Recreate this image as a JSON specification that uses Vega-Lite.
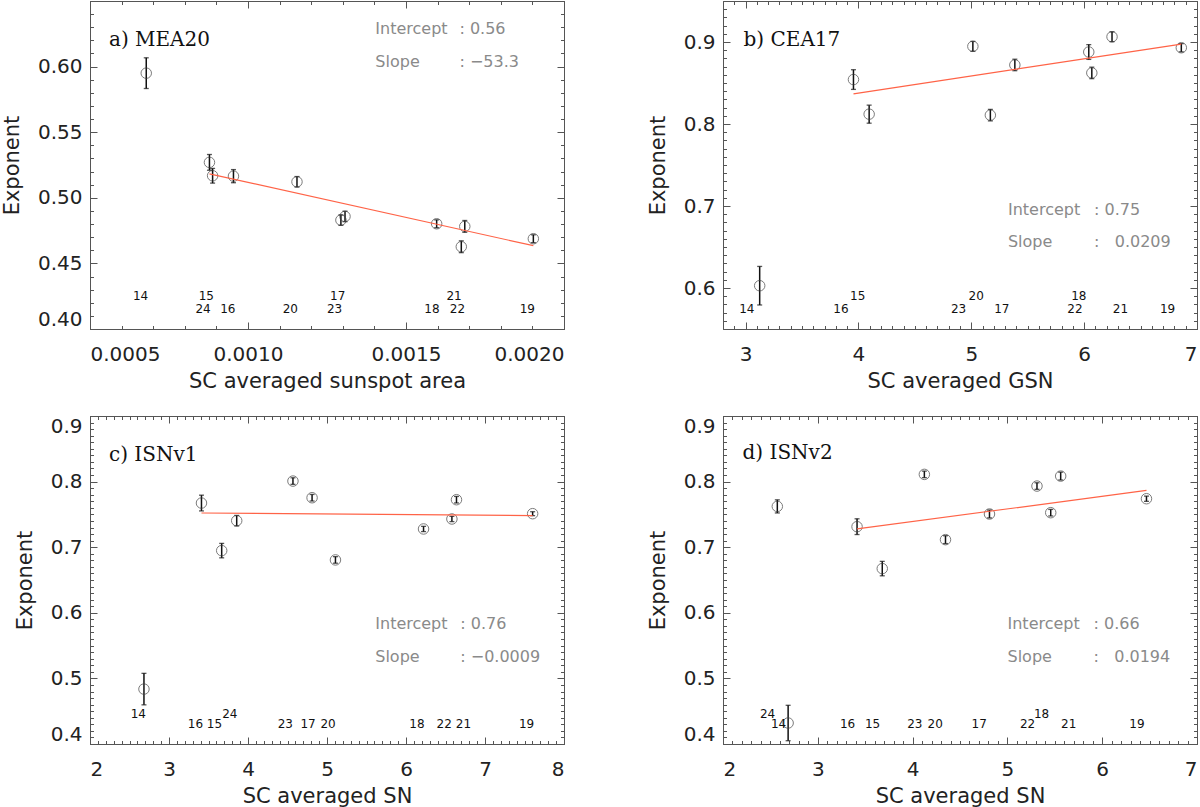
{
  "$schema": "https://vega.github.io/schema/vega-lite/v6.json",
  "description": "Exponent versus solar-cycle averaged activity for four sunspot records",
  "padding": {"left": 0, "top": 0, "right": 0, "bottom": 0},
  "bounds": "flush",
  "columns": 2,
  "spacing": {"row": 87, "column": 159},
  "config": {
    "view": {"stroke": "#555", "strokeWidth": 1},
    "axis": {
      "grid": false, "domain": false,
      "labelFont": "DejaVu Sans", "labelFontSize": 20, "labelColor": "#222",
      "titleFont": "DejaVu Sans", "titleFontSize": 21, "titleFontWeight": "normal", "titleColor": "#222",
      "tickColor": "#555", "tickWidth": 1, "labelOverlap": false, "labelBound": false
    },
    "axisX": {"labelPadding": 15, "titlePadding": 6},
    "axisY": {"labelPadding": 8, "titlePadding": 15}
  },
  "datasets": {
    "a_pts": [
      {"cyc": "14", "x": 0.000678, "y": 0.595, "lo": 0.5833, "hi": 0.6067, "lx": 0.000660, "ly": 0.4255},
      {"cyc": "15", "x": 0.000878, "y": 0.527, "lo": 0.521, "hi": 0.533, "lx": 0.000868, "ly": 0.4255},
      {"cyc": "24", "x": 0.000888, "y": 0.5168, "lo": 0.5112, "hi": 0.5224, "lx": 0.000858, "ly": 0.4155},
      {"cyc": "16", "x": 0.000954, "y": 0.5165, "lo": 0.5115, "hi": 0.5215, "lx": 0.000936, "ly": 0.4155},
      {"cyc": "20", "x": 0.001155, "y": 0.5122, "lo": 0.5082, "hi": 0.5162, "lx": 0.001134, "ly": 0.4155},
      {"cyc": "23", "x": 0.001294, "y": 0.483, "lo": 0.479, "hi": 0.487, "lx": 0.001274, "ly": 0.4155},
      {"cyc": "17", "x": 0.001307, "y": 0.4858, "lo": 0.4818, "hi": 0.4898, "lx": 0.001284, "ly": 0.4255},
      {"cyc": "18", "x": 0.001597, "y": 0.4802, "lo": 0.4772, "hi": 0.4832, "lx": 0.001582, "ly": 0.4155},
      {"cyc": "21", "x": 0.001686, "y": 0.4782, "lo": 0.4737, "hi": 0.4827, "lx": 0.001652, "ly": 0.4255},
      {"cyc": "22", "x": 0.001675, "y": 0.4627, "lo": 0.4582, "hi": 0.4672, "lx": 0.001663, "ly": 0.4155},
      {"cyc": "19", "x": 0.001903, "y": 0.4688, "lo": 0.4658, "hi": 0.4718, "lx": 0.001884, "ly": 0.4155}
    ],
    "a_fit": [{"x": 0.000878, "y": 0.5183}, {"x": 0.001903, "y": 0.4635}],
    "a_txt": [
      {"k": "Intercept", "v": ": 0.56", "kx": 0.001403, "vx": 0.001669, "y": 0.6247},
      {"k": "Slope", "v": ": \u221253.3", "kx": 0.001403, "vx": 0.001669, "y": 0.5994}
    ],
    "a_lab": [{"t": "a) MEA20", "x": 0.00056, "y": 0.6158}],
    "b_pts": [
      {"cyc": "14", "x": 3.125, "y": 0.6028, "lo": 0.5793, "hi": 0.6263, "lx": 3.011, "ly": 0.5750},
      {"cyc": "16", "x": 3.956, "y": 0.8542, "lo": 0.8422, "hi": 0.8662, "lx": 3.845, "ly": 0.5750},
      {"cyc": "15", "x": 4.095, "y": 0.812, "lo": 0.801, "hi": 0.823, "lx": 3.993, "ly": 0.5903},
      {"cyc": "23", "x": 5.014, "y": 0.8947, "lo": 0.8887, "hi": 0.9007, "lx": 4.887, "ly": 0.5750},
      {"cyc": "20", "x": 5.169, "y": 0.8108, "lo": 0.8038, "hi": 0.8178, "lx": 5.043, "ly": 0.5903},
      {"cyc": "17", "x": 5.386, "y": 0.872, "lo": 0.865, "hi": 0.879, "lx": 5.271, "ly": 0.5750},
      {"cyc": "22", "x": 6.041, "y": 0.8878, "lo": 0.8788, "hi": 0.8968, "lx": 5.919, "ly": 0.5750},
      {"cyc": "18", "x": 6.068, "y": 0.8623, "lo": 0.8553, "hi": 0.8693, "lx": 5.953, "ly": 0.5903},
      {"cyc": "21", "x": 6.247, "y": 0.9064, "lo": 0.9004, "hi": 0.9124, "lx": 6.322, "ly": 0.5750},
      {"cyc": "19", "x": 6.861, "y": 0.893, "lo": 0.888, "hi": 0.898, "lx": 6.739, "ly": 0.5750}
    ],
    "b_fit": [{"x": 3.956, "y": 0.8367}, {"x": 6.861, "y": 0.8975}],
    "b_txt": [
      {"k": "Intercept", "v": ": 0.75", "kx": 5.325, "vx": 6.088, "y": 0.6888},
      {"k": "Slope", "v": ": \u20070.0209", "kx": 5.325, "vx": 6.088, "y": 0.6503}
    ],
    "b_lab": [{"t": "b) CEA17", "x": 2.982, "y": 0.895}],
    "c_pts": [
      {"cyc": "14", "x": 2.683, "y": 0.4837, "lo": 0.4597, "hi": 0.5077, "lx": 2.611, "ly": 0.4455},
      {"cyc": "16", "x": 3.411, "y": 0.7673, "lo": 0.7553, "hi": 0.7793, "lx": 3.335, "ly": 0.430},
      {"cyc": "15", "x": 3.667, "y": 0.6948, "lo": 0.6838, "hi": 0.7058, "lx": 3.575, "ly": 0.430},
      {"cyc": "24", "x": 3.857, "y": 0.7404, "lo": 0.7324, "hi": 0.7484, "lx": 3.770, "ly": 0.4455},
      {"cyc": "23", "x": 4.569, "y": 0.8008, "lo": 0.7958, "hi": 0.8058, "lx": 4.473, "ly": 0.430},
      {"cyc": "17", "x": 4.811, "y": 0.7754, "lo": 0.7704, "hi": 0.7804, "lx": 4.760, "ly": 0.430},
      {"cyc": "20", "x": 5.107, "y": 0.6806, "lo": 0.6756, "hi": 0.6856, "lx": 5.013, "ly": 0.430},
      {"cyc": "18", "x": 6.222, "y": 0.7278, "lo": 0.7238, "hi": 0.7318, "lx": 6.138, "ly": 0.430},
      {"cyc": "22", "x": 6.581, "y": 0.743, "lo": 0.739, "hi": 0.747, "lx": 6.483, "ly": 0.430},
      {"cyc": "21", "x": 6.639, "y": 0.7724, "lo": 0.7674, "hi": 0.7774, "lx": 6.728, "ly": 0.430},
      {"cyc": "19", "x": 7.603, "y": 0.7511, "lo": 0.7481, "hi": 0.7541, "lx": 7.526, "ly": 0.430}
    ],
    "c_fit": [{"x": 3.411, "y": 0.7521}, {"x": 7.603, "y": 0.7481}],
    "c_txt": [
      {"k": "Intercept", "v": ": 0.76", "kx": 5.611, "vx": 6.687, "y": 0.575},
      {"k": "Slope", "v": ": \u22120.0009", "kx": 5.611, "vx": 6.687, "y": 0.5243}
    ],
    "c_lab": [{"t": "c) ISNv1", "x": 2.24, "y": 0.832}],
    "d_pts": [
      {"cyc": "24", "x": 2.573, "y": 0.7622, "lo": 0.7522, "hi": 0.7722, "lx": 2.470, "ly": 0.4455},
      {"cyc": "14", "x": 2.687, "y": 0.432, "lo": 0.405, "hi": 0.459, "lx": 2.586, "ly": 0.430},
      {"cyc": "16", "x": 3.414, "y": 0.7313, "lo": 0.7193, "hi": 0.7433, "lx": 3.314, "ly": 0.430},
      {"cyc": "15", "x": 3.680, "y": 0.6674, "lo": 0.6564, "hi": 0.6784, "lx": 3.578, "ly": 0.430},
      {"cyc": "23", "x": 4.124, "y": 0.811, "lo": 0.806, "hi": 0.816, "lx": 4.024, "ly": 0.430},
      {"cyc": "20", "x": 4.347, "y": 0.7115, "lo": 0.7055, "hi": 0.7175, "lx": 4.239, "ly": 0.430},
      {"cyc": "17", "x": 4.811, "y": 0.7506, "lo": 0.7446, "hi": 0.7566, "lx": 4.703, "ly": 0.430},
      {"cyc": "22", "x": 5.312, "y": 0.7932, "lo": 0.7882, "hi": 0.7982, "lx": 5.213, "ly": 0.430},
      {"cyc": "18", "x": 5.457, "y": 0.7526, "lo": 0.7476, "hi": 0.7576, "lx": 5.361, "ly": 0.4455},
      {"cyc": "21", "x": 5.562, "y": 0.8084, "lo": 0.8024, "hi": 0.8144, "lx": 5.646, "ly": 0.430},
      {"cyc": "19", "x": 6.467, "y": 0.7739, "lo": 0.7699, "hi": 0.7779, "lx": 6.367, "ly": 0.430}
    ],
    "d_fit": [{"x": 3.414, "y": 0.7278}, {"x": 6.467, "y": 0.7866}],
    "d_txt": [
      {"k": "Intercept", "v": ": 0.66", "kx": 5.001, "vx": 5.909, "y": 0.575},
      {"k": "Slope", "v": ": \u20070.0194", "kx": 5.001, "vx": 5.909, "y": 0.5243}
    ],
    "d_lab": [{"t": "d) ISNv2", "x": 2.206, "y": 0.835}]
  },
  "concat": [
    {
      "width": 474, "height": 328,
      "resolve": {"axis": {"x": "independent", "y": "independent"}},
      "layer": [
        {
          "data": {"name": "a_pts"},
          "mark": {"type": "rule", "color": "#111", "strokeWidth": 1.5},
          "encoding": {
            "x": {"field": "x", "type": "quantitative", "scale": {"domain": [0.0005, 0.002], "nice": false, "zero": false},
              "axis": {"orient": "bottom", "title": "SC averaged sunspot area", "values": [0.0005, 0.001, 0.0015, 0.002], "format": ".4f", "ticks": false}},
            "y": {"field": "lo", "type": "quantitative", "scale": {"domain": [0.4, 0.65], "nice": false, "zero": false},
              "axis": {"orient": "left", "title": "Exponent", "values": [0.4, 0.45, 0.5, 0.55, 0.6], "format": ".2f", "ticks": false, "labelFlush": true}},
            "y2": {"field": "hi"}
          }
        },
        {
          "data": {"name": "a_pts"},
          "mark": {"type": "tick", "orient": "horizontal", "size": 5, "thickness": 1.3, "color": "#111"},
          "encoding": {
            "x": {"field": "x", "type": "quantitative", "axis": {"orient": "bottom", "values": [0.0005, 0.001, 0.0015, 0.002], "labels": false, "title": null, "tickSize": -7}},
            "y": {"field": "lo", "type": "quantitative", "axis": {"orient": "left", "values": [0.4, 0.45, 0.5, 0.55, 0.6, 0.65], "labels": false, "title": null, "tickSize": -7}}
          }
        },
        {
          "data": {"name": "a_pts"},
          "mark": {"type": "tick", "orient": "horizontal", "size": 5, "thickness": 1.3, "color": "#111"},
          "encoding": {
            "x": {"field": "x", "type": "quantitative", "axis": {"orient": "top", "values": [0.0005, 0.001, 0.0015, 0.002], "labels": false, "title": null, "tickSize": -7}},
            "y": {"field": "hi", "type": "quantitative", "axis": {"orient": "right", "values": [0.4, 0.45, 0.5, 0.55, 0.6, 0.65], "labels": false, "title": null, "tickSize": -7}}
          }
        },
        {
          "data": {"name": "a_pts"},
          "mark": {"type": "point", "shape": "circle", "filled": false, "size": 110, "stroke": "#444", "strokeWidth": 1},
          "encoding": {
            "x": {"field": "x", "type": "quantitative", "axis": {"orient": "bottom", "tickCount": 15, "labels": false, "title": null, "tickSize": -3.5}},
            "y": {"field": "y", "type": "quantitative", "axis": {"orient": "left", "tickCount": 25, "labels": false, "title": null, "tickSize": -3.5}}
          }
        },
        {
          "data": {"name": "a_fit"},
          "mark": {"type": "line", "color": "#ff6347", "strokeWidth": 1.2},
          "encoding": {
            "x": {"field": "x", "type": "quantitative", "axis": {"orient": "top", "tickCount": 15, "labels": false, "title": null, "tickSize": -3.5}},
            "y": {"field": "y", "type": "quantitative", "axis": {"orient": "right", "tickCount": 25, "labels": false, "title": null, "tickSize": -3.5}}
          }
        },
        {
          "data": {"name": "a_pts"},
          "mark": {"type": "text", "font": "DejaVu Sans", "fontSize": 12, "color": "#111", "align": "center", "baseline": "middle"},
          "encoding": {
            "x": {"field": "lx", "type": "quantitative", "axis": null},
            "y": {"field": "ly", "type": "quantitative", "axis": null},
            "text": {"field": "cyc"}
          }
        },
        {
          "data": {"name": "a_lab"},
          "mark": {"type": "text", "font": "DejaVu Serif", "fontSize": 20, "color": "#111", "align": "left", "baseline": "alphabetic"},
          "encoding": {
            "x": {"field": "x", "type": "quantitative", "axis": null},
            "y": {"field": "y", "type": "quantitative", "axis": null},
            "text": {"field": "t"}
          }
        },
        {
          "data": {"name": "a_txt"},
          "mark": {"type": "text", "font": "DejaVu Sans", "fontSize": 16, "color": "#8a8a8a", "align": "left", "baseline": "alphabetic"},
          "encoding": {
            "x": {"field": "kx", "type": "quantitative", "axis": null},
            "y": {"field": "y", "type": "quantitative", "axis": null},
            "text": {"field": "k"}
          }
        },
        {
          "data": {"name": "a_txt"},
          "mark": {"type": "text", "font": "DejaVu Sans", "fontSize": 16, "color": "#8a8a8a", "align": "left", "baseline": "alphabetic"},
          "encoding": {
            "x": {"field": "vx", "type": "quantitative", "axis": null},
            "y": {"field": "y", "type": "quantitative", "axis": null},
            "text": {"field": "v"}
          }
        }
      ]
    },
    {
      "width": 474, "height": 328,
      "resolve": {"axis": {"x": "independent", "y": "independent"}},
      "layer": [
        {
          "data": {"name": "b_pts"},
          "mark": {"type": "rule", "color": "#111", "strokeWidth": 1.5},
          "encoding": {
            "x": {"field": "x", "type": "quantitative", "scale": {"domain": [2.8, 7], "nice": false, "zero": false},
              "axis": {"orient": "bottom", "title": "SC averaged GSN", "values": [3, 4, 5, 6, 7], "format": "d", "ticks": false}},
            "y": {"field": "lo", "type": "quantitative", "scale": {"domain": [0.55, 0.95], "nice": false, "zero": false},
              "axis": {"orient": "left", "title": "Exponent", "values": [0.6, 0.7, 0.8, 0.9], "format": ".1f", "ticks": false}},
            "y2": {"field": "hi"}
          }
        },
        {
          "data": {"name": "b_pts"},
          "mark": {"type": "tick", "orient": "horizontal", "size": 5, "thickness": 1.3, "color": "#111"},
          "encoding": {
            "x": {"field": "x", "type": "quantitative", "axis": {"orient": "bottom", "values": [3, 4, 5, 6, 7], "labels": false, "title": null, "tickSize": -7}},
            "y": {"field": "lo", "type": "quantitative", "axis": {"orient": "left", "values": [0.6, 0.7, 0.8, 0.9], "labels": false, "title": null, "tickSize": -7}}
          }
        },
        {
          "data": {"name": "b_pts"},
          "mark": {"type": "tick", "orient": "horizontal", "size": 5, "thickness": 1.3, "color": "#111"},
          "encoding": {
            "x": {"field": "x", "type": "quantitative", "axis": {"orient": "top", "values": [3, 4, 5, 6, 7], "labels": false, "title": null, "tickSize": -7}},
            "y": {"field": "hi", "type": "quantitative", "axis": {"orient": "right", "values": [0.6, 0.7, 0.8, 0.9], "labels": false, "title": null, "tickSize": -7}}
          }
        },
        {
          "data": {"name": "b_pts"},
          "mark": {"type": "point", "shape": "circle", "filled": false, "size": 110, "stroke": "#444", "strokeWidth": 1},
          "encoding": {
            "x": {"field": "x", "type": "quantitative", "axis": {"orient": "bottom", "tickCount": 42, "labels": false, "title": null, "tickSize": -3.5}},
            "y": {"field": "y", "type": "quantitative", "axis": {"orient": "left", "tickCount": 40, "labels": false, "title": null, "tickSize": -3.5}}
          }
        },
        {
          "data": {"name": "b_fit"},
          "mark": {"type": "line", "color": "#ff6347", "strokeWidth": 1.2},
          "encoding": {
            "x": {"field": "x", "type": "quantitative", "axis": {"orient": "top", "tickCount": 42, "labels": false, "title": null, "tickSize": -3.5}},
            "y": {"field": "y", "type": "quantitative", "axis": {"orient": "right", "tickCount": 40, "labels": false, "title": null, "tickSize": -3.5}}
          }
        },
        {
          "data": {"name": "b_pts"},
          "mark": {"type": "text", "font": "DejaVu Sans", "fontSize": 12, "color": "#111", "align": "center", "baseline": "middle"},
          "encoding": {
            "x": {"field": "lx", "type": "quantitative", "axis": null},
            "y": {"field": "ly", "type": "quantitative", "axis": null},
            "text": {"field": "cyc"}
          }
        },
        {
          "data": {"name": "b_lab"},
          "mark": {"type": "text", "font": "DejaVu Serif", "fontSize": 20, "color": "#111", "align": "left", "baseline": "alphabetic"},
          "encoding": {
            "x": {"field": "x", "type": "quantitative", "axis": null},
            "y": {"field": "y", "type": "quantitative", "axis": null},
            "text": {"field": "t"}
          }
        },
        {
          "data": {"name": "b_txt"},
          "mark": {"type": "text", "font": "DejaVu Sans", "fontSize": 16, "color": "#8a8a8a", "align": "left", "baseline": "alphabetic"},
          "encoding": {
            "x": {"field": "kx", "type": "quantitative", "axis": null},
            "y": {"field": "y", "type": "quantitative", "axis": null},
            "text": {"field": "k"}
          }
        },
        {
          "data": {"name": "b_txt"},
          "mark": {"type": "text", "font": "DejaVu Sans", "fontSize": 16, "color": "#8a8a8a", "align": "left", "baseline": "alphabetic"},
          "encoding": {
            "x": {"field": "vx", "type": "quantitative", "axis": null},
            "y": {"field": "y", "type": "quantitative", "axis": null},
            "text": {"field": "v"}
          }
        }
      ]
    },
    {
      "width": 474, "height": 328,
      "resolve": {"axis": {"x": "independent", "y": "independent"}},
      "layer": [
        {
          "data": {"name": "c_pts"},
          "mark": {"type": "rule", "color": "#111", "strokeWidth": 1.5},
          "encoding": {
            "x": {"field": "x", "type": "quantitative", "scale": {"domain": [2, 8], "nice": false, "zero": false},
              "axis": {"orient": "bottom", "title": "SC averaged SN", "values": [2, 3, 4, 5, 6, 7, 8], "format": "d", "ticks": false}},
            "y": {"field": "lo", "type": "quantitative", "scale": {"domain": [0.4, 0.9], "nice": false, "zero": false},
              "axis": {"orient": "left", "title": "Exponent", "values": [0.4, 0.5, 0.6, 0.7, 0.8, 0.9], "format": ".1f", "ticks": false, "labelFlush": true}},
            "y2": {"field": "hi"}
          }
        },
        {
          "data": {"name": "c_pts"},
          "mark": {"type": "tick", "orient": "horizontal", "size": 5, "thickness": 1.3, "color": "#111"},
          "encoding": {
            "x": {"field": "x", "type": "quantitative", "axis": {"orient": "bottom", "values": [2, 3, 4, 5, 6, 7, 8], "labels": false, "title": null, "tickSize": -7}},
            "y": {"field": "lo", "type": "quantitative", "axis": {"orient": "left", "values": [0.4, 0.5, 0.6, 0.7, 0.8, 0.9], "labels": false, "title": null, "tickSize": -7}}
          }
        },
        {
          "data": {"name": "c_pts"},
          "mark": {"type": "tick", "orient": "horizontal", "size": 5, "thickness": 1.3, "color": "#111"},
          "encoding": {
            "x": {"field": "x", "type": "quantitative", "axis": {"orient": "top", "values": [2, 3, 4, 5, 6, 7, 8], "labels": false, "title": null, "tickSize": -7}},
            "y": {"field": "hi", "type": "quantitative", "axis": {"orient": "right", "values": [0.4, 0.5, 0.6, 0.7, 0.8, 0.9], "labels": false, "title": null, "tickSize": -7}}
          }
        },
        {
          "data": {"name": "c_pts"},
          "mark": {"type": "point", "shape": "circle", "filled": false, "size": 110, "stroke": "#444", "strokeWidth": 1},
          "encoding": {
            "x": {"field": "x", "type": "quantitative", "axis": {"orient": "bottom", "tickCount": 60, "labels": false, "title": null, "tickSize": -3.5}},
            "y": {"field": "y", "type": "quantitative", "axis": {"orient": "left", "tickCount": 50, "labels": false, "title": null, "tickSize": -3.5}}
          }
        },
        {
          "data": {"name": "c_fit"},
          "mark": {"type": "line", "color": "#ff6347", "strokeWidth": 1.2},
          "encoding": {
            "x": {"field": "x", "type": "quantitative", "axis": {"orient": "top", "tickCount": 60, "labels": false, "title": null, "tickSize": -3.5}},
            "y": {"field": "y", "type": "quantitative", "axis": {"orient": "right", "tickCount": 50, "labels": false, "title": null, "tickSize": -3.5}}
          }
        },
        {
          "data": {"name": "c_pts"},
          "mark": {"type": "text", "font": "DejaVu Sans", "fontSize": 12, "color": "#111", "align": "center", "baseline": "middle"},
          "encoding": {
            "x": {"field": "lx", "type": "quantitative", "axis": null},
            "y": {"field": "ly", "type": "quantitative", "axis": null},
            "text": {"field": "cyc"}
          }
        },
        {
          "data": {"name": "c_lab"},
          "mark": {"type": "text", "font": "DejaVu Serif", "fontSize": 20, "color": "#111", "align": "left", "baseline": "alphabetic"},
          "encoding": {
            "x": {"field": "x", "type": "quantitative", "axis": null},
            "y": {"field": "y", "type": "quantitative", "axis": null},
            "text": {"field": "t"}
          }
        },
        {
          "data": {"name": "c_txt"},
          "mark": {"type": "text", "font": "DejaVu Sans", "fontSize": 16, "color": "#8a8a8a", "align": "left", "baseline": "alphabetic"},
          "encoding": {
            "x": {"field": "kx", "type": "quantitative", "axis": null},
            "y": {"field": "y", "type": "quantitative", "axis": null},
            "text": {"field": "k"}
          }
        },
        {
          "data": {"name": "c_txt"},
          "mark": {"type": "text", "font": "DejaVu Sans", "fontSize": 16, "color": "#8a8a8a", "align": "left", "baseline": "alphabetic"},
          "encoding": {
            "x": {"field": "vx", "type": "quantitative", "axis": null},
            "y": {"field": "y", "type": "quantitative", "axis": null},
            "text": {"field": "v"}
          }
        }
      ]
    },
    {
      "width": 474, "height": 328,
      "resolve": {"axis": {"x": "independent", "y": "independent"}},
      "layer": [
        {
          "data": {"name": "d_pts"},
          "mark": {"type": "rule", "color": "#111", "strokeWidth": 1.5},
          "encoding": {
            "x": {"field": "x", "type": "quantitative", "scale": {"domain": [2, 7], "nice": false, "zero": false},
              "axis": {"orient": "bottom", "title": "SC averaged SN", "values": [2, 3, 4, 5, 6, 7], "format": "d", "ticks": false}},
            "y": {"field": "lo", "type": "quantitative", "scale": {"domain": [0.4, 0.9], "nice": false, "zero": false},
              "axis": {"orient": "left", "title": "Exponent", "values": [0.4, 0.5, 0.6, 0.7, 0.8, 0.9], "format": ".1f", "ticks": false, "labelFlush": true}},
            "y2": {"field": "hi"}
          }
        },
        {
          "data": {"name": "d_pts"},
          "mark": {"type": "tick", "orient": "horizontal", "size": 5, "thickness": 1.3, "color": "#111"},
          "encoding": {
            "x": {"field": "x", "type": "quantitative", "axis": {"orient": "bottom", "values": [2, 3, 4, 5, 6, 7], "labels": false, "title": null, "tickSize": -7}},
            "y": {"field": "lo", "type": "quantitative", "axis": {"orient": "left", "values": [0.4, 0.5, 0.6, 0.7, 0.8, 0.9], "labels": false, "title": null, "tickSize": -7}}
          }
        },
        {
          "data": {"name": "d_pts"},
          "mark": {"type": "tick", "orient": "horizontal", "size": 5, "thickness": 1.3, "color": "#111"},
          "encoding": {
            "x": {"field": "x", "type": "quantitative", "axis": {"orient": "top", "values": [2, 3, 4, 5, 6, 7], "labels": false, "title": null, "tickSize": -7}},
            "y": {"field": "hi", "type": "quantitative", "axis": {"orient": "right", "values": [0.4, 0.5, 0.6, 0.7, 0.8, 0.9], "labels": false, "title": null, "tickSize": -7}}
          }
        },
        {
          "data": {"name": "d_pts"},
          "mark": {"type": "point", "shape": "circle", "filled": false, "size": 110, "stroke": "#444", "strokeWidth": 1},
          "encoding": {
            "x": {"field": "x", "type": "quantitative", "axis": {"orient": "bottom", "tickCount": 50, "labels": false, "title": null, "tickSize": -3.5}},
            "y": {"field": "y", "type": "quantitative", "axis": {"orient": "left", "tickCount": 50, "labels": false, "title": null, "tickSize": -3.5}}
          }
        },
        {
          "data": {"name": "d_fit"},
          "mark": {"type": "line", "color": "#ff6347", "strokeWidth": 1.2},
          "encoding": {
            "x": {"field": "x", "type": "quantitative", "axis": {"orient": "top", "tickCount": 50, "labels": false, "title": null, "tickSize": -3.5}},
            "y": {"field": "y", "type": "quantitative", "axis": {"orient": "right", "tickCount": 50, "labels": false, "title": null, "tickSize": -3.5}}
          }
        },
        {
          "data": {"name": "d_pts"},
          "mark": {"type": "text", "font": "DejaVu Sans", "fontSize": 12, "color": "#111", "align": "center", "baseline": "middle"},
          "encoding": {
            "x": {"field": "lx", "type": "quantitative", "axis": null},
            "y": {"field": "ly", "type": "quantitative", "axis": null},
            "text": {"field": "cyc"}
          }
        },
        {
          "data": {"name": "d_lab"},
          "mark": {"type": "text", "font": "DejaVu Serif", "fontSize": 20, "color": "#111", "align": "left", "baseline": "alphabetic"},
          "encoding": {
            "x": {"field": "x", "type": "quantitative", "axis": null},
            "y": {"field": "y", "type": "quantitative", "axis": null},
            "text": {"field": "t"}
          }
        },
        {
          "data": {"name": "d_txt"},
          "mark": {"type": "text", "font": "DejaVu Sans", "fontSize": 16, "color": "#8a8a8a", "align": "left", "baseline": "alphabetic"},
          "encoding": {
            "x": {"field": "kx", "type": "quantitative", "axis": null},
            "y": {"field": "y", "type": "quantitative", "axis": null},
            "text": {"field": "k"}
          }
        },
        {
          "data": {"name": "d_txt"},
          "mark": {"type": "text", "font": "DejaVu Sans", "fontSize": 16, "color": "#8a8a8a", "align": "left", "baseline": "alphabetic"},
          "encoding": {
            "x": {"field": "vx", "type": "quantitative", "axis": null},
            "y": {"field": "y", "type": "quantitative", "axis": null},
            "text": {"field": "v"}
          }
        }
      ]
    }
  ]
}
